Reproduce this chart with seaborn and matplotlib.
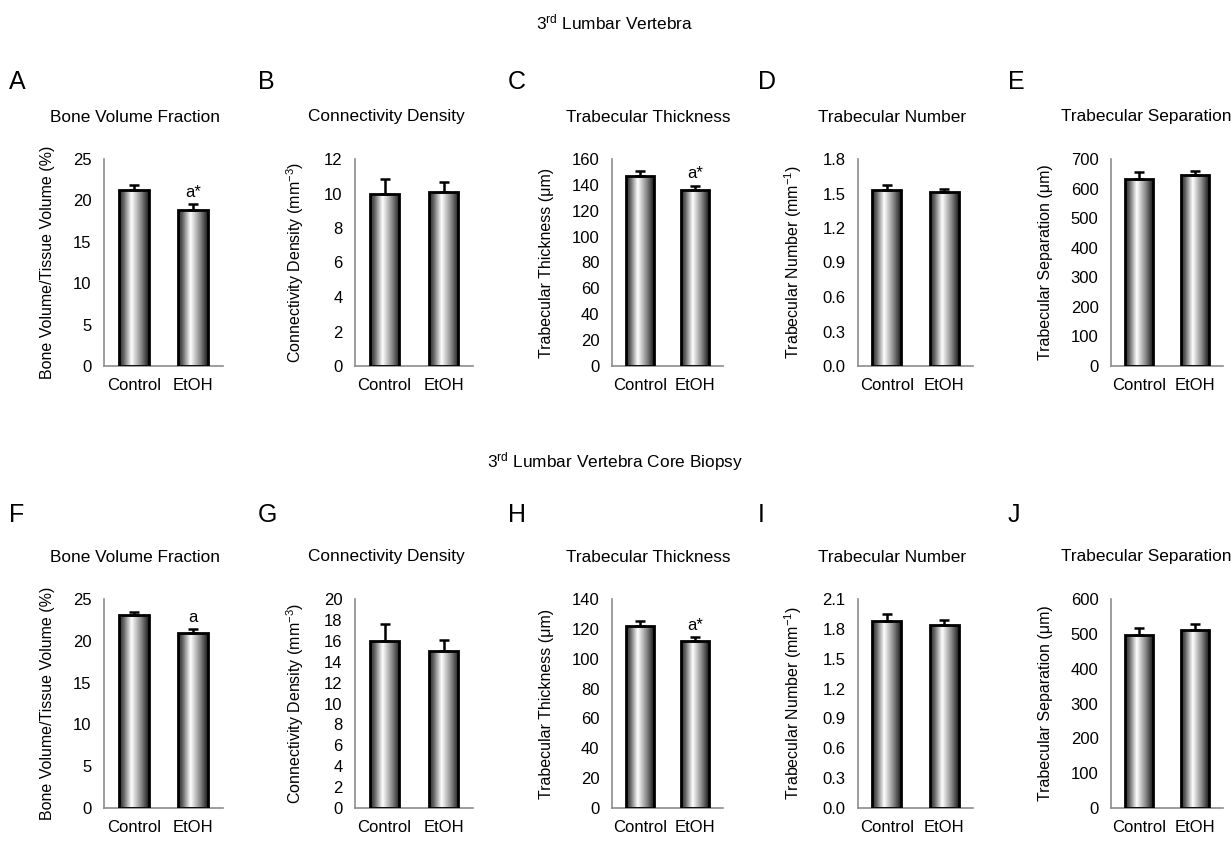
import numpy as np
import pandas as pd
import matplotlib
matplotlib.use("Agg")
import matplotlib.pyplot as plt
from matplotlib.colors import LinearSegmentedColormap
import seaborn as sns

# data (mean, upper SEM)
groups = ["Control", "EtOH"]
panel_letters = ["A", "B", "C", "D", "E", "F", "G", "H", "I", "J"]
titles = ["Bone Volume Fraction", "Connectivity Density", "Trabecular Thickness",
          "Trabecular Number", "Trabecular Separation"] * 2
ylabels = ["Bone Volume/Tissue Volume (%)", "Connectivity Density (mm$^{-3}$)",
           "Trabecular Thickness (\u03bcm)", "Trabecular Number (mm$^{-1}$)",
           "Trabecular Separation (\u03bcm)"] * 2

vert_means = [[21.2, 18.8], [10.0, 10.1], [147, 136], [1.53, 1.51], [632, 645]]
vert_errs = [[0.7, 0.8], [0.85, 0.55], [3.5, 3.5], [0.045, 0.025], [23, 15]]
core_means = [[23.1, 20.9], [16.0, 15.0], [122, 112], [1.88, 1.84], [497, 511]]
core_errs = [[0.4, 0.5], [1.6, 1.1], [3.5, 2.5], [0.07, 0.05], [21, 16]]

vert_ymax = [25, 12, 160, 1.8, 700]
vert_ystep = [5, 2, 20, 0.3, 100]
core_ymax = [25, 20, 140, 2.1, 600]
core_ystep = [5, 2, 20, 0.3, 100]

vert_marks = [["", "a*"], ["", ""], ["", "a*"], ["", ""], ["", ""]]
core_marks = [["", "a"], ["", ""], ["", "a*"], ["", ""], ["", ""]]

sns.set_style("white")
plt.rcParams["font.family"] = ["Liberation Sans", "DejaVu Sans"]
plt.rcParams["mathtext.default"] = "regular"
plt.rcParams["text.color"] = "black"
plt.rcParams["axes.labelcolor"] = "black"
plt.rcParams["xtick.labelcolor"] = "black"
plt.rcParams["ytick.labelcolor"] = "black"

W, H = 1231, 841
fig = plt.figure(figsize=(W / 100, H / 100), dpi=100)

# layout in pixels
col_px = [(104, 223), (355, 473), (612, 723), (858, 973), (1111, 1223)]
row_px = [(159, 366), (599, 808)]
title_dx = [28, 28, 19, 23, 21]
title_y = [117, 557]
letter_x = [9, 258, 508, 758, 1008]
letter_y = [82, 515]
section_y = [22, 462]

grad = LinearSegmentedColormap.from_list(
    "bar", [(0.0, "#262626"), (0.15, "#606060"), (0.42, "#ffffff"),
            (0.75, "#858585"), (1.0, "#1a1a1a")])
gradient = np.linspace(0, 1, 256).reshape(1, -1)

spine_col = "#8c8c8c"


def draw_panel(ax, means, errs, ymax, ystep, marks, ylabel):
    df = pd.DataFrame({"group": groups, "value": means})
    sns.barplot(data=df, x="group", y="value", color="white", width=0.5,
                edgecolor="black", linewidth=2.0, errorbar=None, ax=ax, zorder=2)
    for p in ax.patches:
        x0, y0 = p.get_x(), p.get_y()
        im = ax.imshow(gradient, cmap=grad, aspect="auto", zorder=2.5,
                       extent=[x0, x0 + p.get_width(), y0, y0 + p.get_height()])
        im.set_clip_path(p)
        p.set_zorder(3)
        p.set_facecolor("none")
    ax.errorbar(range(len(groups)), means, yerr=[[0] * len(errs), errs],
                fmt="none", ecolor="black", elinewidth=1.8, capsize=3.7,
                capthick=1.8, zorder=4)
    for i, m in enumerate(marks):
        if m:
            ax.annotate(m, (i, means[i] + errs[i]), xytext=(0, 3),
                        textcoords="offset points", ha="center", va="bottom",
                        fontsize=12)
    ax.set_xlim(-0.5, len(groups) - 0.5)
    ax.set_ylim(0, ymax)
    ticks = np.arange(0, ymax + ystep / 2, ystep)
    ax.set_yticks(ticks)
    if ystep < 1:
        ax.set_yticklabels([f"{t:.1f}" for t in ticks])
    else:
        ax.set_yticklabels([f"{t:g}" for t in ticks])
    ax.set_xticks([-0.5, 0.5, 1.5], minor=False)
    ax.set_xticklabels([])
    ax.set_xticks([0, 1], minor=True)
    ax.set_xticklabels(groups, minor=True)
    ax.tick_params(axis="x", which="major", direction="out", length=4,
                   color=spine_col, width=1)
    ax.tick_params(axis="x", which="minor", length=0, labelsize=12, pad=9)
    ax.tick_params(axis="y", direction="out", length=4, color=spine_col,
                   width=1, labelsize=12, pad=5)
    ax.set_xlabel("")
    ax.set_ylabel(ylabel, fontsize=11.5, labelpad=13)
    for s in ["top", "right"]:
        ax.spines[s].set_visible(False)
    for s in ["left", "bottom"]:
        ax.spines[s].set_color(spine_col)
        ax.spines[s].set_linewidth(1.2)
    ax.set_facecolor("none")


all_means = [vert_means, core_means]
all_errs = [vert_errs, core_errs]
all_ymax = [vert_ymax, core_ymax]
all_ystep = [vert_ystep, core_ystep]
all_marks = [vert_marks, core_marks]

for r, (top, bot) in enumerate(row_px):
    for c, (left, right) in enumerate(col_px):
        ax = fig.add_axes([left / W, (H - bot) / H, (right - left) / W, (bot - top) / H])
        k = r * 5 + c
        draw_panel(ax, all_means[r][c], all_errs[r][c], all_ymax[r][c],
                   all_ystep[r][c], all_marks[r][c], ylabels[k])
        fig.text((left + (right - left) / 2 - title_dx[c]) / W, 1 - title_y[r] / H,
                 titles[k], ha="center", va="center", fontsize=12.4)
        fig.text(letter_x[c] / W, 1 - letter_y[r] / H, panel_letters[k],
                 ha="left", va="center", fontsize=18)

fig.text(615 / W, 1 - section_y[0] / H, "3$^{rd}$ Lumbar Vertebra", ha="center",
         va="center", fontsize=12.4)
fig.text(615 / W, 1 - section_y[1] / H, "3$^{rd}$ Lumbar Vertebra Core Biopsy",
         ha="center", va="center", fontsize=12.4)

fig.savefig("out.png", dpi=100, facecolor="white")
